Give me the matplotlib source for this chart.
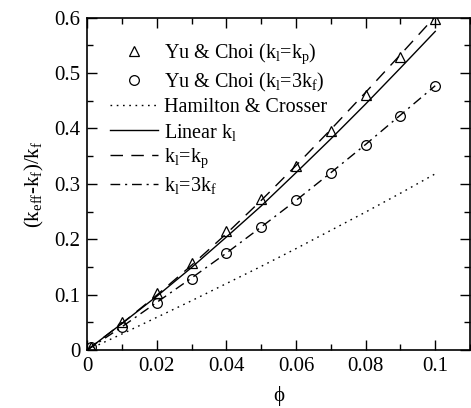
import matplotlib
matplotlib.use("Agg")
import matplotlib.pyplot as plt
from matplotlib.ticker import MultipleLocator

plt.rcParams['font.family'] = ['Liberation Serif', 'DejaVu Serif']
plt.rcParams['mathtext.fontset'] = 'custom'
plt.rcParams['mathtext.rm'] = 'Liberation Serif'
plt.rcParams['mathtext.it'] = 'Liberation Serif:italic'

# Data
phi_pts = [0.001, 0.01, 0.02, 0.03, 0.04, 0.05, 0.06, 0.07, 0.08, 0.09, 0.1]
yu_kp = [0.005, 0.050, 0.103, 0.158, 0.215, 0.273, 0.333, 0.395, 0.460, 0.528, 0.598]
yu_3kf = [0.005, 0.042, 0.085, 0.128, 0.175, 0.222, 0.270, 0.320, 0.370, 0.423, 0.477]

phi_line = [0.0, 0.01, 0.02, 0.03, 0.04, 0.05, 0.06, 0.07, 0.08, 0.09, 0.1]
hamilton = [0.0, 0.029, 0.059, 0.089, 0.120, 0.151, 0.183, 0.216, 0.249, 0.283, 0.318]
linear_kl = [0.0, 0.048, 0.097, 0.149, 0.204, 0.260, 0.320, 0.381, 0.444, 0.509, 0.575]
kl_kp = [0.0, 0.048, 0.099, 0.153, 0.210, 0.270, 0.333, 0.398, 0.465, 0.533, 0.602]
kl_3kf = [0.0, 0.042, 0.086, 0.130, 0.175, 0.222, 0.270, 0.320, 0.371, 0.424, 0.477]

fig = plt.figure(figsize=(4.71, 4.08), dpi=100)
ax = fig.add_axes([0.185, 0.142, 0.813, 0.815])

ax.plot(phi_pts, yu_kp, linestyle='none', marker='^', mfc='none', mec='black',
        ms=7, mew=0.9, label='Yu & Choi (k$_{\\rm l}$=k$_{\\rm p}$)')
ax.plot(phi_pts, yu_3kf, linestyle='none', marker='o', mfc='none', mec='black',
        ms=7, mew=0.9, label='Yu & Choi (k$_{\\rm l}$=3k$_{\\rm f}$)')
ax.plot(phi_line, hamilton, color='black', lw=1.0, linestyle=(0, (1.2, 3.3)),
        label='Hamilton & Crosser')
ax.plot(phi_line, linear_kl, color='black', lw=1.0, linestyle='-',
        label='Linear k$_{\\rm l}$')
ax.plot(phi_line, kl_kp, color='black', lw=1.0, linestyle=(0, (9, 6)),
        label='k$_{\\rm l}$=k$_{\\rm p}$')
ax.plot(phi_line, kl_3kf, color='black', lw=1.0, linestyle=(0, (7, 3.5, 1.5, 3.5)),
        label='k$_{\\rm l}$=3k$_{\\rm f}$')

ax.set_xlim(0, 0.11)
ax.set_ylim(0, 0.6)
ax.xaxis.set_minor_locator(MultipleLocator(0.01))
ax.yaxis.set_minor_locator(MultipleLocator(0.05))
ax.set_xticks([0, 0.02, 0.04, 0.06, 0.08, 0.1])
ax.set_xticklabels(['0', '0.02', '0.04', '0.06', '0.08', '0.1'])
ax.set_yticks([0, 0.1, 0.2, 0.3, 0.4, 0.5, 0.6])
ax.set_yticklabels(['0', '0.1', '0.2', '0.3', '0.4', '0.5', '0.6'])
ax.tick_params(which='both', direction='in', top=True, right=True, labelsize=15, width=1)
ax.tick_params(which='major', length=7, pad=5)
ax.tick_params(which='minor', length=4)
for s in ax.spines.values():
    s.set_linewidth(1.2)

ax.set_xlabel('ϕ', fontsize=15, labelpad=7)
ax.set_ylabel('(k$_{\\rm eff}$-k$_{\\rm f}$)/k$_{\\rm f}$', fontsize=15, labelpad=6)

ax.legend(loc='upper left', frameon=False, fontsize=14.5, handlelength=2.4,
          handletextpad=0.3, labelspacing=0.22, borderaxespad=0.3,
          bbox_to_anchor=(0.022, 0.97))

fig.savefig('out.png', dpi=100)
